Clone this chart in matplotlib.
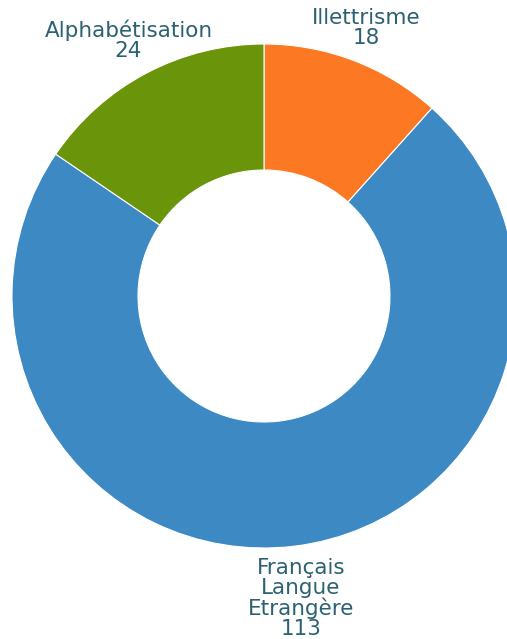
import numpy as np
import matplotlib
matplotlib.use("Agg")
import matplotlib.pyplot as plt

categories = ["Illettrisme", "Français\nLangue\nEtrangère", "Alphabétisation"]
values = [18, 113, 24]
colors = ["#fd7823", "#3c89c4", "#6a9409"]
label_dist = [1.14, 1.21, 1.15]
TXT = "#2b6172"

W, H = 507, 639
cx, cy, R = 264, 296, 252

fig = plt.figure(figsize=(W / 100, H / 100), dpi=100)
ax = fig.add_axes([0, 0, 1, 1])
wedges, _ = ax.pie(values, colors=colors, startangle=90, counterclock=False,
                   wedgeprops=dict(width=0.5, edgecolor="white", linewidth=0.8))
ax.set_aspect("auto")
ax.set_xlim(-cx / R, (W - cx) / R)
ax.set_ylim((cy - H) / R, cy / R)
ax.axis("off")

for w, name, v, d in zip(wedges, categories, values, label_dist):
    ang = np.deg2rad((w.theta1 + w.theta2) / 2)
    ax.text(d * np.cos(ang), d * np.sin(ang), f"{name}\n{v}", ha="center", va="center",
            color=TXT, fontsize=15.5, family="DejaVu Sans", linespacing=1.0)

fig.savefig("out.png", dpi=100)
